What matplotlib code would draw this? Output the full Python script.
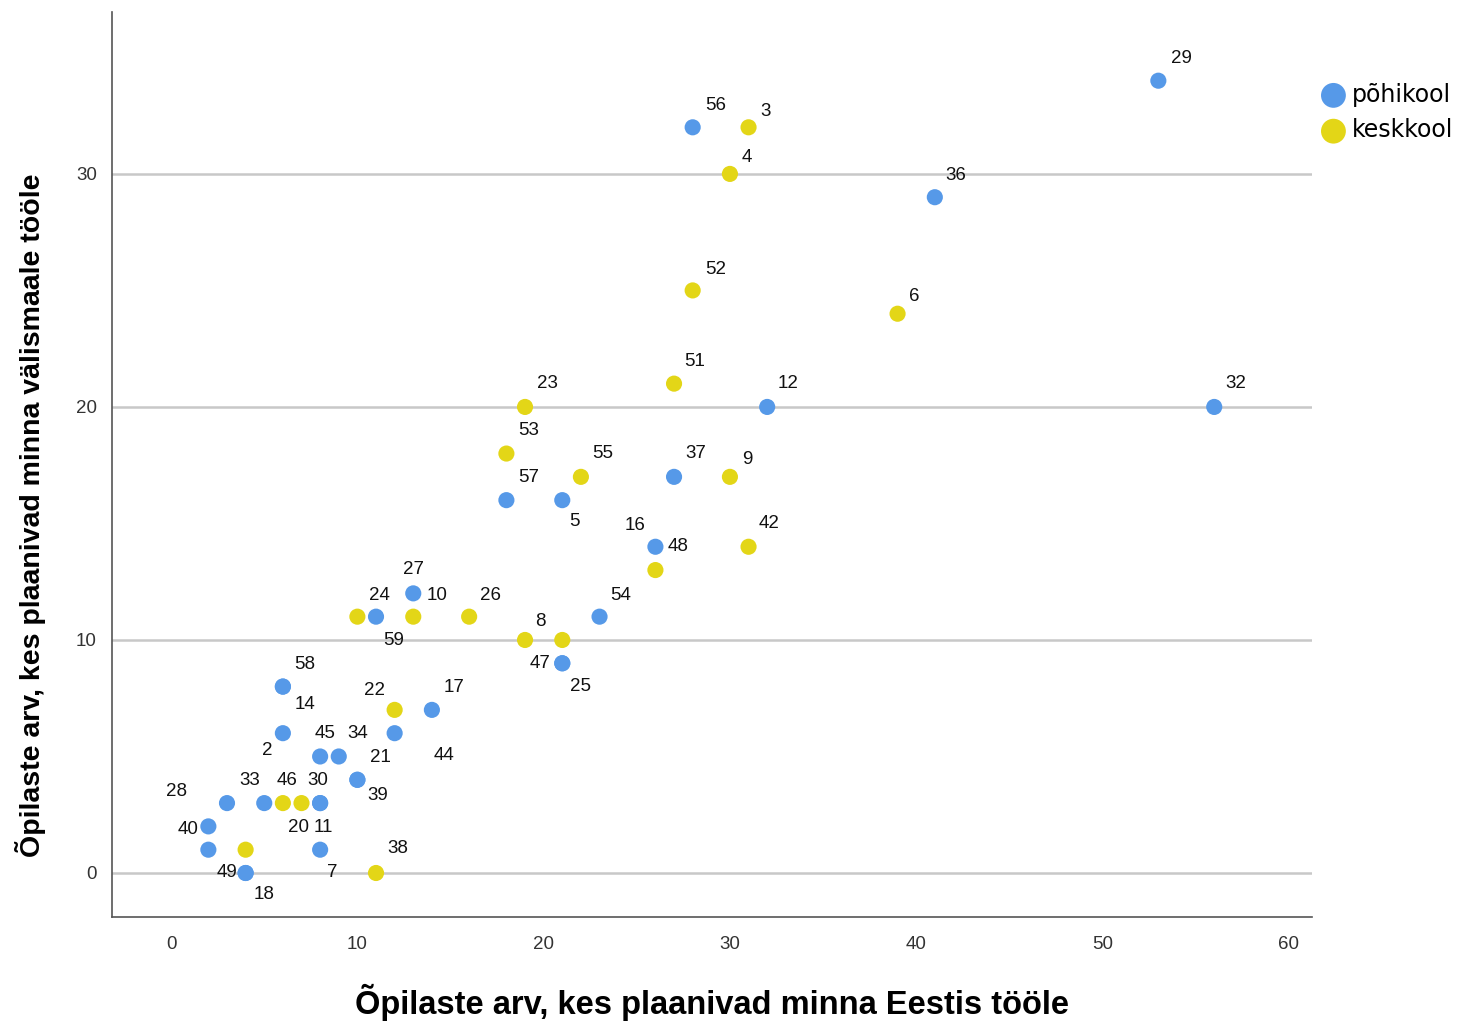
import matplotlib
matplotlib.use("Agg")
import matplotlib.pyplot as plt

# ---- data ----
poh_ids = ["29", "56", "36", "12", "32", "37", "57", "5", "16", "27", "59", "54", "47", "25",
           "58", "14", "2", "17", "44", "45", "34", "21", "39", "28", "33", "30", "11", "40",
           "", "7", "49", "18"]
poh_x = [53, 28, 41, 32, 56, 27, 18, 21, 26, 13, 11, 23, 21, 21,
         6, 6, 6, 14, 12, 8, 9, 10, 10, 3, 5, 8, 8, 2,
         2, 8, 4, 4]
poh_y = [34, 32, 29, 20, 20, 17, 16, 16, 14, 12, 11, 11, 9, 9,
         8, 8, 6, 7, 6, 5, 5, 4, 4, 3, 3, 3, 3, 2,
         1, 1, 0, 0]

kesk_ids = ["3", "4", "52", "6", "51", "23", "53", "55", "9", "42", "48", "24", "10", "26",
            "8", "", "22", "46", "20", "", "38"]
kesk_x = [31, 30, 28, 39, 27, 19, 18, 22, 30, 31, 26, 10, 13, 16,
          19, 21, 12, 6, 7, 4, 11]
kesk_y = [32, 30, 25, 24, 21, 20, 18, 17, 17, 14, 13, 11, 11, 11,
          10, 10, 7, 3, 3, 1, 0]

groups = ["põhikool", "keskkool"]
x_ticks = [0, 10, 20, 30, 40, 50, 60]
y_ticks = [0, 10, 20, 30]
x_title = "Õpilaste arv, kes plaanivad minna Eestis tööle"
y_title = "Õpilaste arv, kes plaanivad minna välismaale tööle"

# ---- label offsets (pixels, styling only) ----
poh_off = [(23, 22), (23, 22), (21, 22), (21, 23), (22, 23), (22, 23), (22, 23), (12, -21),
           (-20, 21), (0, 24), (18, -24), (21, 21), (-22, 0), (18, -23),
           (22, 22), (22, -18), (-16, -17), (22, 22), (49, -22), (5, 23), (19, 23),
           (23, 22), (20, -16), (-50, 12), (-15, 23), (-2, 23), (3, -24), (-20, -3),
           (0, 0), (12, -23), (-19, 0), (18, -22)]
kesk_off = [(17, 16), (17, 16), (23, 21), (17, 17), (21, 22), (22, 23), (22, 23), (22, 23),
            (17, 17), (21, 23), (23, 24), (22, 21), (24, 21), (21, 21),
            (15, 18), (0, 0), (-20, 19), (4, 23), (-3, -24), (0, 0), (22, 24)]

colors = ["#5699e8", "#e3d617"]

fig = plt.figure(figsize=(14.63, 10.22), dpi=100)
ax = fig.add_axes([0.0766, 0.1027, 0.8202, 0.8856])

ax.set_xlim(-3.17, 61.25)
ax.set_ylim(-1.89, 36.95)

for yt in y_ticks:
    ax.axhline(yt, color="#c8c8c8", lw=1.8, zorder=0)

ax.scatter(poh_x, poh_y, s=135, color=colors[0], edgecolors="none", zorder=3, label=groups[0])
ax.scatter(kesk_x, kesk_y, s=135, color=colors[1], edgecolors="none", zorder=3, label=groups[1])

for ids, xs, ys, offs in [(poh_ids, poh_x, poh_y, poh_off), (kesk_ids, kesk_x, kesk_y, kesk_off)]:
    for t, x, y, o in zip(ids, xs, ys, offs):
        if t:
            ax.annotate(t, (x, y), xytext=o, textcoords="offset pixels",
                        ha="center", va="center", fontsize=13.5,
                        family="Liberation Sans", color="#111111", zorder=4)

ax.set_xticks(x_ticks)
ax.set_yticks(y_ticks)
ax.tick_params(axis="both", length=0, labelsize=13.5, colors="#333333")
ax.tick_params(axis="x", pad=14)
ax.tick_params(axis="y", pad=11)
for lab in ax.get_xticklabels() + ax.get_yticklabels():
    lab.set_family("Liberation Sans")

for s in ["top", "right"]:
    ax.spines[s].set_visible(False)
for s in ["left", "bottom"]:
    ax.spines[s].set_color("#555555")
    ax.spines[s].set_linewidth(1.2)

fig.text(0.487, 0.001, x_title, ha="center", va="bottom", fontsize=23.5,
         fontweight="bold", family="Liberation Sans")
fig.text(0.010, 0.496, y_title, ha="left", va="center", rotation=90, fontsize=20.5,
         fontweight="bold", family="Liberation Sans")

leg = fig.legend(loc="upper left", bbox_to_anchor=(0.884, 0.940), frameon=False,
                 markerscale=1.45, handletextpad=0.0, labelspacing=0.5,
                 handlelength=1.6,
                 prop={"family": "DejaVu Sans", "size": 17})
for h in leg.legend_handles:
    h.set_sizes([320])

fig.savefig("out.png", dpi=100)
